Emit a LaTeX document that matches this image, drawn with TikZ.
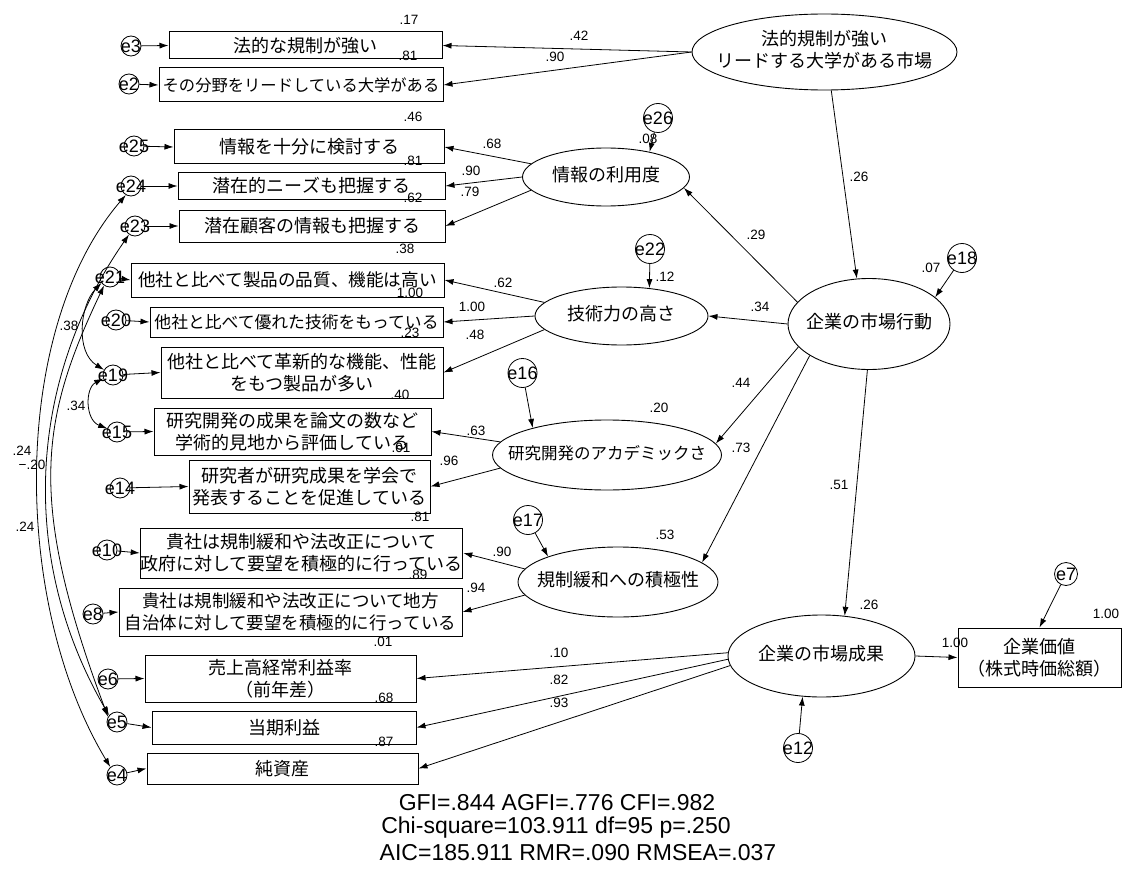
\documentclass[tikz,border=0pt]{standalone}
\usepackage{fontspec}
\setmainfont{Noto Sans CJK JP}
\newfontfamily\numfont{Liberation Sans}
\usetikzlibrary{arrows.meta,shapes.geometric}

% zero-width centred block, so that ellipses keep their given size
\newcommand{\ztext}[1]{\makebox[0pt]{\begin{tabular}{@{}c@{}}#1\end{tabular}}}

\begin{document}
\begin{tikzpicture}[x=1pt,y=-1pt,
  every node/.style={inner sep=0pt},
  jp/.style={font=\fontsize{18}{22}\selectfont},
  obs/.style={draw, line width=1pt, rectangle, jp, align=center},
  lat/.style={draw, line width=0.9pt, ellipse, jp},
  err/.style={draw, circle, line width=0.8pt, font=\numfont\fontsize{18}{20}\selectfont},
  errs/.style={err, minimum size=20},
  errl/.style={err, minimum size=29},
  num/.style={font=\numfont\fontsize{13.5}{15}\selectfont},
  stat/.style={font=\numfont\fontsize{23}{25}\selectfont},
  arr/.style={line width=0.8pt, -{Latex[length=9pt,width=6pt]}},
  cov/.style={line width=0.8pt, {Latex[length=9pt,width=6pt]}-{Latex[length=9pt,width=6pt]}},
]
\path[use as bounding box] (0,0) rectangle (1122,872);

% ---------- observed variables ----------
\node[obs, minimum width=273, minimum height=27] (b3) at (305.5,45.5) {法的な規制が強い};
\node[obs, minimum width=284, minimum height=34, font=\fontsize{16.3}{20}\selectfont] (b2) at (301,85) {その分野をリードしている大学がある};
\node[obs, minimum width=270, minimum height=34] (b25) at (309,147) {情報を十分に検討する};
\node[obs, minimum width=267, minimum height=26] (b24) at (311.5,186) {潜在的ニーズも把握する};
\node[obs, minimum width=266, minimum height=32] (b23) at (312,226) {潜在顧客の情報も把握する};
\node[obs, minimum width=313, minimum height=34, font=\fontsize{17.6}{21}\selectfont] (b21) at (287.5,280) {他社と比べて製品の品質、機能は高い};
\node[obs, minimum width=293, minimum height=30, font=\fontsize{16.8}{21}\selectfont] (b20) at (296.5,322) {他社と比べて優れた技術をもっている};
\node[obs, minimum width=282, minimum height=51] (b19) at (302,372.5) {他社と比べて革新的な機能、性能\\をもつ製品が多い};
\node[obs, minimum width=277, minimum height=47] (b15) at (292.5,431.5) {研究開発の成果を論文の数など\\学術的見地から評価している};
\node[obs, minimum width=241, minimum height=53] (b14) at (309.5,486.5) {研究者が研究成果を学会で\\発表することを促進している};
\node[obs, minimum width=319, minimum height=50] (b10) at (301.5,553) {貴社は規制緩和や法改正について\\政府に対して要望を積極的に行っている};
\node[obs, minimum width=343, minimum height=48, font=\fontsize{17.5}{22}\selectfont] (b8) at (290.5,612) {貴社は規制緩和や法改正について地方\\自治体に対して要望を積極的に行っている};
\node[obs, minimum width=271, minimum height=47] (b6) at (280.5,678.5) {売上高経常利益率\\（前年差）};
\node[obs, minimum width=264, minimum height=33] (b5) at (284,727.5) {当期利益};
\node[obs, minimum width=271, minimum height=31] (b4) at (282.5,768.5) {純資産};
\node[obs, minimum width=163, minimum height=59] (Val) at (1039.5,657.5) {企業価値\\（株式時価総額）};

% ---------- latent variables ----------
\node[lat, minimum width=265, minimum height=76] (F1) at (824.5,52) {\ztext{法的規制が強い\\リードする大学がある市場}};
\node[lat, minimum width=167, minimum height=58] (Info) at (606,177) {\ztext{情報の利用度}};
\node[lat, minimum width=173, minimum height=58] (Tech) at (621.5,316) {\ztext{技術力の高さ}};
\node[lat, minimum width=229, minimum height=70, font=\fontsize{16.5}{20}\selectfont] (Acad) at (607,455) {\ztext{研究開発のアカデミックさ}};
\node[lat, minimum width=200, minimum height=70] (Dereg) at (618,582) {\ztext{規制緩和への積極性}};
\node[lat, minimum width=162, minimum height=91] (Act) at (869,324) {\ztext{企業の市場行動}};
\node[lat, minimum width=187, minimum height=82] (Perf) at (821.5,656) {\ztext{企業の市場成果}};

% ---------- error terms ----------
\node[errs] (e3)  at (131,46)  {\makebox[0pt]{e3}};
\node[errs] (e2)  at (129,84)  {\makebox[0pt]{e2}};
\node[errs] (e25) at (134,146) {\makebox[0pt]{e25}};
\node[errs] (e24) at (131,186) {\makebox[0pt]{e24}};
\node[errs] (e23) at (135,226) {\makebox[0pt]{e23}};
\node[errs] (e21) at (110,277) {\makebox[0pt]{e21}};
\node[errs] (e20) at (116,320) {\makebox[0pt]{e20}};
\node[errs] (e19) at (113,375) {\makebox[0pt]{e19}};
\node[errs] (e15) at (117,432) {\makebox[0pt]{e15}};
\node[errs] (e14) at (120,488) {\makebox[0pt]{e14}};
\node[errs] (e10) at (107,550) {\makebox[0pt]{e10}};
\node[errs] (e8)  at (93,614)  {\makebox[0pt]{e8}};
\node[errs] (e6)  at (108,679) {\makebox[0pt]{e6}};
\node[errs] (e5)  at (117,722) {\makebox[0pt]{e5}};
\node[errs] (e4)  at (117,775) {\makebox[0pt]{e4}};
\node[errl] (e26) at (658,118) {\makebox[0pt]{e26}};
\node[errl] (e22) at (650,249) {\makebox[0pt]{e22}};
\node[errl] (e16) at (522.5,373) {\makebox[0pt]{e16}};
\node[errl] (e17) at (528,520) {\makebox[0pt]{e17}};
\node[errl] (e18) at (962,258) {\makebox[0pt]{e18}};
\node[errl] (e12) at (798,748) {\makebox[0pt]{e12}};
\node[err, minimum size=23] (e7) at (1066,574) {\makebox[0pt]{e7}};

% ---------- residual paths ----------
\foreach \e/\b in {e3/b3,e2/b2,e25/b25,e24/b24,e23/b23,e21/b21,e20/b20,e19/b19,e15/b15,e14/b14,e10/b10,e8/b8,e6/b6,e5/b5,e4/b4}
  \draw[arr] (\e) -- (\b.west);
\draw[arr] (e26) -- (Info.30);
\draw[arr] (e22) -- (Tech.45);
\draw[arr] (e16) -- (Acad.160);
\draw[arr] (e17) -- (Dereg.160);
\draw[arr] (e18) -- (Act.22);
\draw[arr] (e12) -- (Perf.245);
\draw[arr] (e7) -- (Val.north);

% ---------- loadings ----------
\draw[arr] (F1.west) -- (b3.east);
\draw[arr] (F1.west) -- (b2.east);
\draw[arr] (Info.170) -- (b25.east);
\draw[arr] (Info.180) -- (b24.east);
\draw[arr] (Info.190) -- (b23.east);
\draw[arr] (Tech.170) -- (b21.east);
\draw[arr] (Tech.180) -- (b20.east);
\draw[arr] (Tech.190) -- (b19.east);
\draw[arr] (Acad.173) -- (b15.east);
\draw[arr] (Acad.187) -- (b14.east);
\draw[arr] (Dereg.172) -- (b10.east);
\draw[arr] (Dereg.188) -- (b8.east);
\draw[arr] (Perf.178) -- (b6.east);
\draw[arr] (Perf.182) -- (b5.east);
\draw[arr] (Perf.186) -- (b4.east);
\draw[arr] (Perf.east) -- (Val.west);

% ---------- structural paths ----------
\draw[arr] (F1.-80) -- (Act.105);
\draw[arr] (Act.163) -- (Info.-8);
\draw[arr] (Act.west) -- (Tech.east);
\draw[arr] (Act.198) -- (Acad.6);
\draw[arr] (Act.208) -- (Dereg.13);
\draw[arr] (Act.268) -- (Perf.60);

% ---------- error covariances ----------
\draw[cov] (e24.240) .. controls (10,330) and (12,604) .. (e4.130);
\draw[cov] (e23.235) .. controls (28,380) and (18,558) .. (e5.140);
\draw[cov] (e21.235) .. controls (40,420) and (27,501) .. (e5.150);
\draw[cov] (e21.215) .. controls (80,305) and (75,352) .. (e19.150);
\draw[cov] (e19.200) .. controls (85,388) and (85,420) .. (e15.160);

% ---------- estimates ----------
\foreach \t/\x/\y [count=\i] in {
  .17/409/20, .81/408/56, .42/579/36, .90/555/57, .46/413/117, .81/413/161,
  .68/492/144, .90/471/171, .62/413/198, .79/470/192, .38/405/249, .08/648/139,
  .26/859/177, .29/756/235, .12/665/277, .62/503/283, 1.00/472/307, .48/475/335,
  .34/760/307, .07/931/268, 1.00/410/293, .23/410/333, .40/400/395, .34/76/406,
  .38/69/326, .01/401/448, .63/476/431, .96/449/461, .44/741/383, .20/659/408,
  .73/741/448, .51/839/485, .81/420/517, .89/418/575, .01/383/642, .90/502/552,
  .94/476/588, .53/665/535, .26/869/605, .10/559/653, .82/559/680, .93/559/703,
  .68/384/698, .87/384/742, 1.00/955/643, 1.00/1106/614, .24/22/451, −.20/32/465,
  .24/25/527}
  \node[num] (est\i) at (\x,\y) {\t};

% ---------- fit indices ----------
\node[stat] (fit1) at (557,803) {GFI=.844 AGFI=.776 CFI=.982};
\node[stat] (fit2) at (556,828) {Chi-square=103.911 df=95 p=.250};
\node[stat] (fit3) at (578,853) {AIC=185.911 RMR=.090 RMSEA=.037};
\end{tikzpicture}
\end{document}
